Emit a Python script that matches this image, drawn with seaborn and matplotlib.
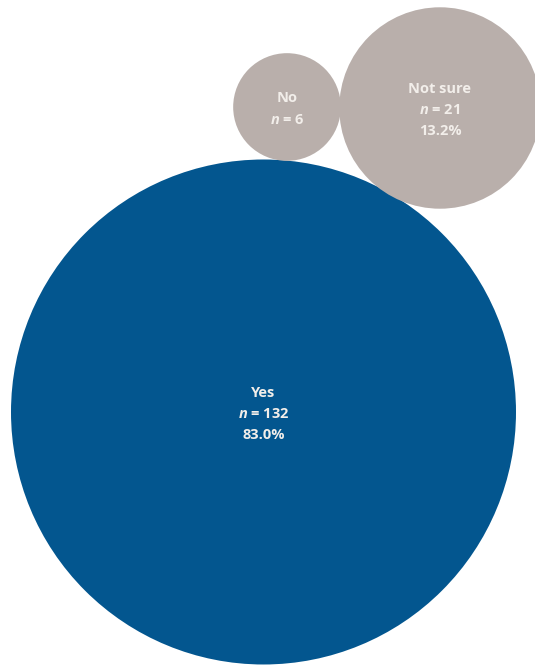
import matplotlib
matplotlib.use("Agg")
import matplotlib.pyplot as plt
import numpy as np
import pandas as pd
import seaborn as sns

# survey answers
answers = ["Yes", "No", "Not sure"]
counts = [132, 6, 21]
percents = ["83.0%", None, "13.2%"]

# bubble layout (pixel space, y down)
centre_x = [263.5, 287, 440]
centre_y = [412, 107, 108]
palette = {"Yes": "#03568F", "No": "#B9AFAB", "Not sure": "#B9AFAB"}

DPI = 100
W, H = 535, 665
R_YES = 252.5  # radius of the largest bubble in pixels

df = pd.DataFrame({"answer": answers, "n": counts, "pct": percents,
                   "x": centre_x, "y": centre_y})

# bubble area proportional to n -> marker size s (pt^2) = c * n
px_per_sqrt_n = R_YES / np.sqrt(max(counts))
c = (2 * px_per_sqrt_n * 72 / DPI) ** 2
size_range = (c * min(counts), c * max(counts))

sns.set_style("white")
plt.rcParams["mathtext.fontset"] = "custom"
plt.rcParams["mathtext.it"] = "Open Sans:italic:bold"
plt.rcParams["mathtext.rm"] = "Open Sans:bold"

fig = plt.figure(figsize=(W / DPI, H / DPI), dpi=DPI)
ax = fig.add_axes([0, 0, 1, 1])

sns.scatterplot(data=df, x="x", y="y", hue="answer", palette=palette,
                size="n", sizes=size_range, linewidth=0, alpha=1,
                legend=False, ax=ax)

for _, row in df.iterrows():
    lines = [row["answer"], f"$n$ = {row['n']}"]
    if row["pct"]:
        lines.append(row["pct"])
    ax.text(row["x"], row["y"] + 2, "\n".join(lines), ha="center", va="center",
            color="#F2EEEA", fontsize=10.5, fontweight="bold",
            family="Open Sans", linespacing=1.65)

ax.set_xlim(0, W)
ax.set_ylim(H, 0)
ax.set_axis_off()

fig.savefig("out.png", dpi=DPI, facecolor="white")
